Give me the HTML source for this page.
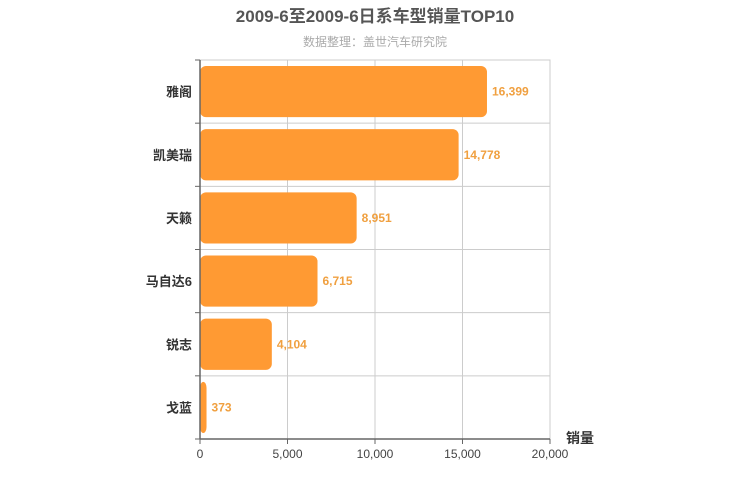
<!DOCTYPE html>
<html><head><meta charset="utf-8"><style>
body{margin:0;background:#fff}
svg{display:block;font-family:"Liberation Sans","Noto Sans CJK SC",sans-serif}
</style></head><body>
<svg id="c" width="750" height="500">
<text x="375" y="22" text-anchor="middle" font-size="17" font-weight="bold" fill="#555">2009-6至2009-6日系车型销量TOP10</text>
<text x="375" y="46" text-anchor="middle" font-size="12" fill="#aaa">数据整理：盖世汽车研究院</text>
<text x="580" y="443" text-anchor="middle" font-size="14" font-weight="bold" fill="#333">销量</text>
</svg>
<script>
const categories=["雅阁","凯美瑞","天籁","马自达6","锐志","戈蓝"];
const values=[16399,14778,8951,6715,4104,373];
const ticks=[0,5000,10000,15000,20000];
const svg=document.getElementById('c');const NS='http://www.w3.org/2000/svg';
const L=200,R=550,T=60,B=439,MAX=20000;
const x=v=>L+(R-L)*v/MAX;const band=(B-T)/categories.length;
function mk(t,a){const e=document.createElementNS(NS,t);for(const k in a)e.setAttribute(k,a[k]);svg.appendChild(e);return e;}
mk('rect',{x:L,y:T,width:R-L,height:B-T,fill:'none',stroke:'#ccc'});
ticks.forEach(t=>{const g=mk('line',{x1:x(t),x2:x(t),y1:T,y2:B,stroke:'#ccc'});

mk('line',{x1:x(t),x2:x(t),y1:B,y2:B+5,stroke:'#666'});
const l=mk('text',{x:x(t),y:B+19,'text-anchor':'middle','font-size':12,fill:'#444'});l.textContent=t.toLocaleString('en-US');
});
for(let i=0;i<=categories.length;i++){const yy=T+i*band;const g=mk('line',{x1:L,x2:R,y1:yy,y2:yy,stroke:'#ccc'});

mk('line',{x1:L-5,x2:L,y1:yy,y2:yy,stroke:'#666'});}
categories.forEach((c,i)=>{const y0=T+i*band+6,h=band-12;
const r=mk('rect',{x:L,y:y0,width:Math.max(x(values[i])-L,0),height:h,rx:6,fill:'#ff9a33'});

const v=mk('text',{x:x(values[i])+5,y:y0+h/2+4,'font-size':12,'font-weight':'bold',fill:'#f0a040'});v.textContent=values[i].toLocaleString('en-US');

const l=mk('text',{x:L-8,y:y0+h/2+5,'text-anchor':'end','font-size':13,'font-weight':'bold',fill:'#333'});l.textContent=c;
});
const ax=mk('line',{x1:L,x2:L,y1:T,y2:B,stroke:'#666','stroke-width':1.5});

const bx=mk('line',{x1:L,x2:R,y1:B,y2:B,stroke:'#666','stroke-width':1.5});

</script>
</body></html>
